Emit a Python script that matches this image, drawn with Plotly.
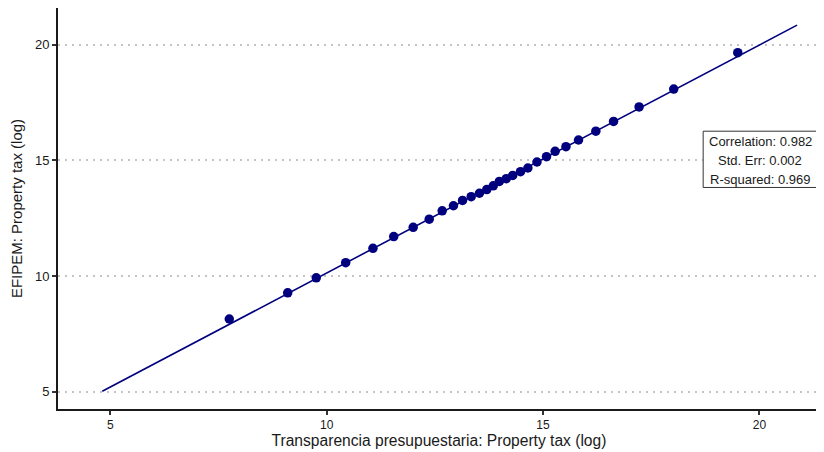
import plotly.graph_objects as go

# Data
x_vals = [7.75, 9.10, 9.76, 10.44, 11.07, 11.55, 12.00, 12.37, 12.67, 12.93,
          13.14, 13.34, 13.53, 13.70, 13.85, 13.99, 14.15, 14.30, 14.48, 14.65,
          14.86, 15.08, 15.28, 15.53, 15.82, 16.22, 16.63, 17.22, 18.02, 19.50]
y_vals = [8.15, 9.28, 9.93, 10.58, 11.20, 11.71, 12.11, 12.46, 12.82, 13.04,
          13.27, 13.43, 13.58, 13.74, 13.90, 14.09, 14.21, 14.35, 14.51, 14.67,
          14.93, 15.16, 15.39, 15.59, 15.88, 16.26, 16.68, 17.31, 18.08, 19.65]
fit_x = [4.815, 20.87]
fit_y = [5.03, 20.84]
x_ticks = [5, 10, 15, 20]
y_ticks = [5, 10, 15, 20]
stats_lines = ["Correlation: 0.982", "Std. Err: 0.002", "R-squared: 0.969"]

NAVY = "#00007f"
FONT = "Liberation Sans, Arial, sans-serif"

fig = go.Figure()
fig.add_trace(go.Scatter(x=fit_x, y=fit_y, mode="lines",
                         line=dict(color=NAVY, width=1.6), hoverinfo="skip",
                         showlegend=False))
fig.add_trace(go.Scatter(x=x_vals, y=y_vals, mode="markers",
                         marker=dict(color=NAVY, size=9.5), showlegend=False))

# statistics box
box_x0, box_x1 = 18.70, 21.33
box_y0, box_y1 = 13.83, 16.26
fig.add_shape(type="rect", xref="x", yref="y", x0=box_x0, x1=box_x1,
              y0=box_y0, y1=box_y1, line=dict(color="#333333", width=1),
              fillcolor="white", layer="above")
line_ys = [15.82, 15.0, 14.18]
for txt, ly in zip(stats_lines, line_ys):
    fig.add_annotation(x=(box_x0 + box_x1) / 2, y=ly, xref="x", yref="y",
                       text=txt, showarrow=False,
                       font=dict(family=FONT, size=13, color="#1a1a1a"))

# the page adds an 8px body margin, so the figure is sized to fit the window
fig.update_layout(
    width=816, height=444,
    margin=dict(l=50, r=4, t=0, b=43),
    paper_bgcolor="white", plot_bgcolor="white",
    font=dict(family=FONT, color="#1a1a1a"),
)
fig.update_xaxes(range=[3.792, 21.40], tickvals=x_ticks, showgrid=False,
                 zeroline=False, showline=True, linecolor="#1a1a1a", linewidth=2,
                 ticks="outside", ticklen=4, tickcolor="#333333", tickwidth=1.5,
                 tickfont=dict(size=12, color="#1a1a1a"),
                 title=dict(text="Transparencia presupuestaria: Property tax (log)",
                            font=dict(size=15.6, color="#1a1a1a"), standoff=3))
fig.update_yaxes(range=[4.263, 21.58], tickvals=y_ticks, showgrid=True,
                 gridcolor="#c4c4c4", griddash="2px,5px", gridwidth=1.6,
                 zeroline=False, showline=True, linecolor="#1a1a1a", linewidth=2,
                 ticks="outside", ticklen=4, tickcolor="#333333", tickwidth=1.5,
                 tickfont=dict(size=13, color="#1a1a1a"),
                 title=dict(text="EFIPEM: Property tax (log)",
                            font=dict(size=15, color="#1a1a1a"), standoff=10))

fig.write_html("out.html")
